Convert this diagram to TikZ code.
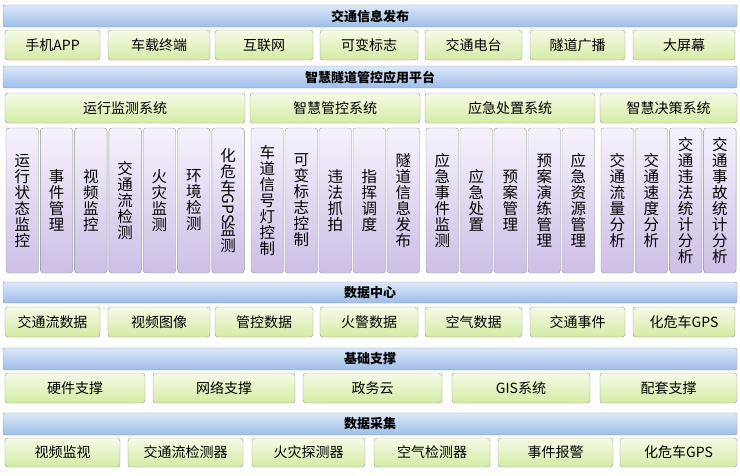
\documentclass[tikz,border=0pt]{standalone}
\usepackage{fontspec}
\setmainfont{Noto Sans CJK SC}
\usepackage{graphicx}
\definecolor{hdtop}{HTML}{DCE8F8}
\definecolor{hdbot}{HTML}{9DBDE8}
\definecolor{grtop}{HTML}{F6FBE6}
\definecolor{grbot}{HTML}{D4EBA4}
\definecolor{putop}{HTML}{F6F2FC}
\definecolor{pubot}{HTML}{CDBFE6}
\definecolor{edge}{HTML}{8C9A8C}
\tikzset{
  hdbar/.style={draw=edge, rounded corners=2pt, top color=hdtop, bottom color=hdbot,
    font=\fontsize{13}{13}\selectfont\bfseries, inner sep=0pt},
  grbox/.style={draw=edge, rounded corners=3pt, top color=grtop, bottom color=grbot,
    font=\fontsize{14}{14}\selectfont, inner sep=0pt},
  pubox/.style={draw=edge, rounded corners=3pt, top color=putop, bottom color=pubot,
    font=\fontsize{15.5}{16}\selectfont, inner sep=0pt, align=center}
}
% box between x1 and x2, y1 and y2 (pixel units)
\newcommand{\pbox}[7]{\path[#1] ({#3},{#5}) rectangle ({#4},{#6})
  node[pos=0.5, inner sep=0pt] (#2) {#7};}
\newcommand{\vchar}[1]{\rotatebox[origin=c]{-90}{#1}}
\begin{document}
\begin{tikzpicture}[x=1pt,y=-1pt]
\useasboundingbox (0,0) rectangle (740,475);
% headers
\pbox{hdbar}{h1}{3}{737}{5}{27}{交通信息发布}
\pbox{hdbar}{h2}{3}{737}{66}{88}{智慧隧道管控应用平台}
\pbox{hdbar}{h3}{3}{737}{282}{303}{数据中心}
\pbox{hdbar}{h4}{3}{737}{348}{370}{基础支撑}
\pbox{hdbar}{h5}{3}{737}{413}{435}{数据采集}
% release channels
\foreach \a/\b/\t [count=\i] in {5/100/手机APP, 108/210/车载终端, 215/313/互联网,
    320/418/可变标志, 425/522/交通电台, 530/625/隧道广播, 633/735/大屏幕}
  \pbox{grbox}{fb\i}{\a}{\b}{30}{60}{\t};
% subsystems
\foreach \a/\b/\t [count=\i] in {5/245/运行监测系统, 250/420/智慧管控系统,
    425/595/应急处置系统, 600/737/智慧决策系统}
  \pbox{grbox}{sys\i}{\a}{\b}{93}{123}{\t};
% functions
\foreach \t [count=\i] in {运\\行\\状\\态\\监\\控, 事\\件\\管\\理, 视\\频\\监\\控,
    交\\通\\流\\检\\测, 火\\灾\\监\\测, 环\\境\\检\\测}
  \pbox{pubox}{fn\i}{6+(\i-1)*34.3}{6+(\i-1)*34.3+32.5}{128}{273}{\t};
\pbox{pubox}{fn7}{211.8}{244.3}{128}{273}{化\\危\\车\\[-2pt]\vchar{GPS}\\[-2pt]监\\测}
\foreach \t [count=\i] in {车\\道\\信\\号\\灯\\控\\制, 可\\变\\标\\志\\控\\制, 违\\法\\抓\\拍,
    指\\挥\\调\\度, 隧\\道\\信\\息\\发\\布}
  \pbox{pubox}{fm\i}{251+(\i-1)*34}{251+(\i-1)*34+32.5}{128}{273}{\t};
\foreach \t [count=\i] in {应\\急\\事\\件\\监\\测, 应\\急\\处\\置, 预\\案\\管\\理,
    预\\案\\演\\练\\管\\理, 应\\急\\资\\源\\管\\理}
  \pbox{pubox}{fe\i}{426+(\i-1)*34}{426+(\i-1)*34+32.5}{128}{273}{\t};
\foreach \t [count=\i] in {交\\通\\流\\量\\分\\析, 交\\通\\速\\度\\分\\析,
    交\\通\\违\\法\\统\\计\\分\\析, 交\\通\\事\\故\\统\\计\\分\\析}
  \pbox{pubox}{fd\i}{601+(\i-1)*34.2}{601+(\i-1)*34.2+32.5}{128}{273}{\t};
% data center
\foreach \a/\b/\t [count=\i] in {5/100/交通流数据, 108/210/视频图像, 215/313/管控数据,
    320/418/火警数据, 425/522/空气数据, 530/625/交通事件, 633/735/化危车GPS}
  \pbox{grbox}{dc\i}{\a}{\b}{307}{337}{\t};
% infrastructure
\foreach \a/\b/\t [count=\i] in {5/145/硬件支撑, 153/295/网络支撑, 303/442/政务云,
    452/590/GIS系统, 600/737/配套支撑}
  \pbox{grbox}{bs\i}{\a}{\b}{373}{403}{\t};
% acquisition
\foreach \a/\b/\t [count=\i] in {5/120/视频监视, 128/243/交通流检测器, 252/365/火灾探测器,
    374/490/空气检测器, 498/613/事件报警, 620/737/化危车GPS}
  \pbox{grbox}{cj\i}{\a}{\b}{438}{467}{\t};
\end{tikzpicture}
\end{document}
